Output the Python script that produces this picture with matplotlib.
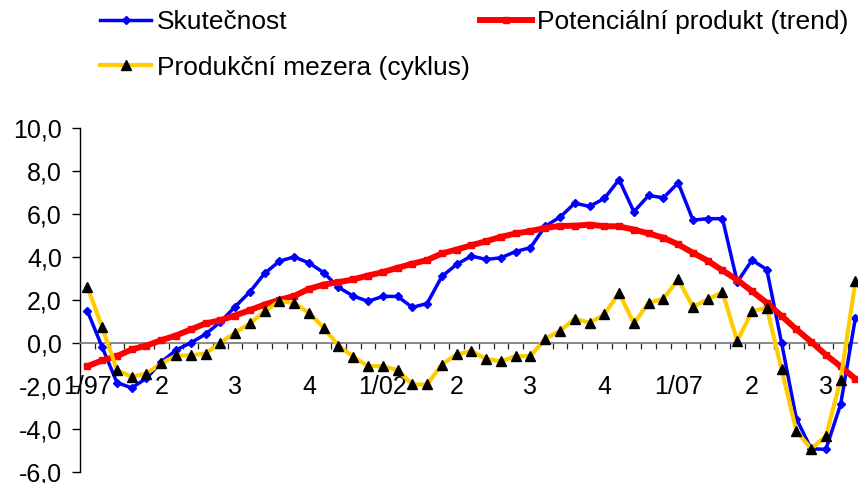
import matplotlib
matplotlib.use("Agg")
import matplotlib.pyplot as plt
from matplotlib.ticker import FuncFormatter, FixedLocator
import numpy as np

plt.rcParams['font.family'] = ['Liberation Sans', 'DejaVu Sans']

# Quarterly observations 1997Q1 .. 2010Q1
skutecnost = [1.48, -0.2, -1.85, -2.1, -1.65, -0.9, -0.34, 0.0, 0.4, 0.97,
              1.68, 2.37, 3.23, 3.8, 4.0, 3.72, 3.27, 2.58, 2.18, 1.93,
              2.16, 2.16, 1.65, 1.83, 3.09, 3.65, 4.04, 3.88, 3.96, 4.25,
              4.43, 5.43, 5.85, 6.5, 6.35, 6.72, 7.6, 6.1, 6.86, 6.75,
              7.45, 5.71, 5.78, 5.78, 2.83, 3.85, 3.41, 0.0, -3.53, -4.93,
              -4.96, -2.86, 1.17]
trend = [-1.09, -0.82, -0.62, -0.31, -0.13, 0.12, 0.34, 0.62, 0.9, 1.05,
         1.27, 1.52, 1.78, 2.0, 2.18, 2.51, 2.71, 2.82, 2.95, 3.13,
         3.29, 3.49, 3.68, 3.85, 4.16, 4.34, 4.54, 4.73, 4.93, 5.09,
         5.2, 5.35, 5.44, 5.45, 5.5, 5.43, 5.42, 5.27, 5.09, 4.89,
         4.58, 4.19, 3.82, 3.37, 2.93, 2.4, 1.86, 1.25, 0.63, 0.05,
         -0.56, -1.1, -1.68]
mezera = [2.61, 0.73, -1.27, -1.58, -1.43, -0.96, -0.59, -0.59, -0.5, 0.0,
          0.47, 0.9, 1.47, 1.94, 1.85, 1.4, 0.7, -0.13, -0.65, -1.09,
          -1.09, -1.27, -1.94, -1.94, -1.01, -0.54, -0.39, -0.75, -0.86, -0.62,
          -0.62, 0.19, 0.56, 1.12, 0.93, 1.32, 2.33, 0.9, 1.86, 2.05,
          2.95, 1.68, 2.02, 2.36, 0.08, 1.47, 1.63, -1.24, -4.11, -4.93,
          -4.35, -1.71, 2.87]
x_labels = ["1/97", "2", "3", "4", "1/02", "2", "3", "4", "1/07", "2", "3"]
label_step = 5

n = len(skutecnost)
x = np.arange(n)

fig = plt.figure(figsize=(8.58, 4.83), dpi=100)
W, H = 858, 483
px = 14.77
ax = fig.add_axes([80 / W, (H - 471.7) / H, (n * px) / W, (471.7 - 128) / H])

ax.plot(x, skutecnost, color='#0000FF', lw=2.5, marker='D', ms=4.2,
        mec='#0000FF', mfc='#0000FF', label='Skutečnost', zorder=3)
ax.plot(x, trend, color='#FF0000', lw=4.3, marker='s', ms=4.5,
        mec='#FF0000', mfc='#FF0000', label='Potenciální produkt (trend)', zorder=4)
ax.plot(x, mezera, color='#FFCC00', lw=3.0, marker='^', ms=7.5,
        mec='black', mfc='black', label='Produkční mezera (cyklus)', zorder=5)

ax.set_xlim(-0.5, n - 0.5)
ax.set_ylim(-6, 10)
ax.set_yticks(np.arange(-6, 10.1, 2))
ax.yaxis.set_major_formatter(FuncFormatter(lambda v, p: f"{v:.1f}".replace('.', ',')))

for s in ['top', 'right']:
    ax.spines[s].set_visible(False)
ax.spines['left'].set_color('black')
ax.spines['left'].set_linewidth(1.0)
ax.spines['bottom'].set_position(('data', 0))
ax.spines['bottom'].set_color('#808080')
ax.spines['bottom'].set_linewidth(1.3)

ax.xaxis.set_major_locator(FixedLocator(x[::label_step][:len(x_labels)]))
ax.set_xticklabels(x_labels)
ax.xaxis.set_minor_locator(FixedLocator(np.arange(0.5, n, 1)))
ax.tick_params(axis='x', which='major', length=0, pad=23, labelsize=18)
ax.tick_params(axis='x', which='minor', length=4.5, width=0.9, color='#222222', direction='out')
ax.tick_params(axis='y', which='major', length=6, width=1.0, pad=7, labelsize=18, direction='out')

handles, labels = ax.get_legend_handles_labels()
order = [0, 2, 1]
leg = fig.legend([handles[i] for i in order], [labels[i] for i in order],
                 ncol=2, loc='upper left', bbox_to_anchor=(100 / W, 1 - 10 / H),
                 frameon=False, fontsize=19, handlelength=1.95, handletextpad=0.2,
                 columnspacing=0.4, labelspacing=0.82, borderaxespad=0, borderpad=0)

fig.savefig('out.png', dpi=100)
